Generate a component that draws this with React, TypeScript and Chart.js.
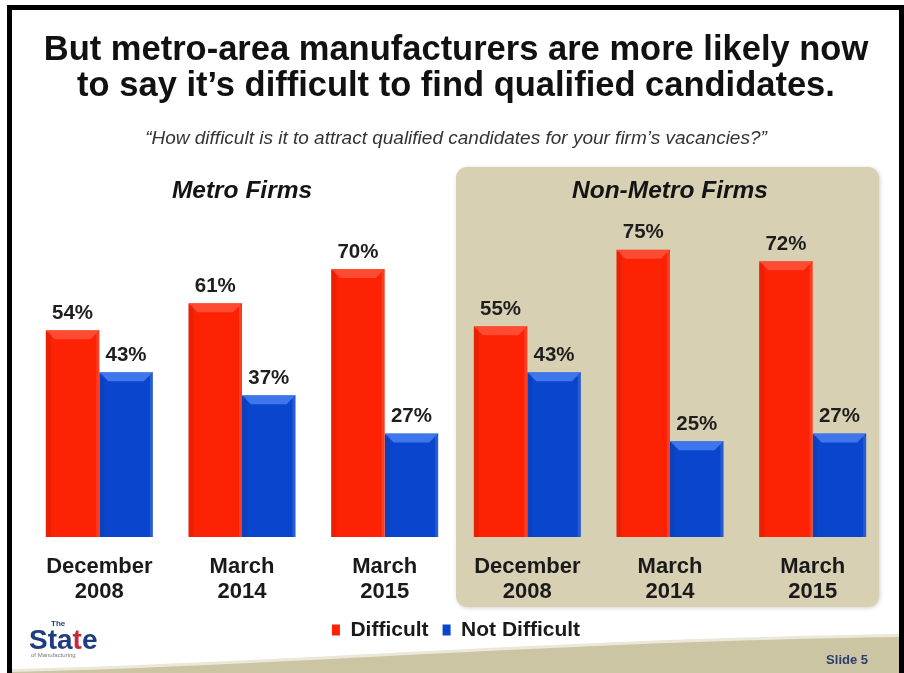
import React, { useEffect, useRef } from "react";
import { Chart, registerables } from "chart.js";

Chart.register(...registerables);

const categories = [
  ["December", "2008"],
  ["March", "2014"],
  ["March", "2015"],
  ["December", "2008"],
  ["March", "2014"],
  ["March", "2015"],
];
const difficult = [54, 61, 70, 55, 75, 72];
const notDifficult = [43, 37, 27, 43, 25, 27];
const seriesNames = ["Difficult", "Not Difficult"];
const groupTitles = ["Metro Firms", "Non-Metro Firms"];
const titleLines = [
  "But metro-area manufacturers are more likely now",
  "to say it’s difficult to find qualified candidates.",
];
const subtitleText =
  "“How difficult is it to attract qualified candidates for your firm’s vacancies?”";
const slideLabel = "Slide 5";

const FONT = '"Liberation Sans", Arial, Helvetica, sans-serif';
const RED = "#fd2204";
const BLUE = "#0a46cd";

const decorPlugin = {
  id: "decor",
  beforeDraw(chart: any) {
    const ctx = chart.ctx as CanvasRenderingContext2D;
    const W = chart.width;
    const H = chart.height;
    ctx.save();
    ctx.fillStyle = "#ffffff";
    ctx.fillRect(0, 0, W, H);

    // bottom wave
    ctx.beginPath();
    ctx.moveTo(12, 669);
    ctx.bezierCurveTo(300, 662, 550, 639, 899, 634);
    ctx.lineTo(899, H);
    ctx.lineTo(12, H);
    ctx.closePath();
    ctx.fillStyle = "#ebe8d9";
    ctx.fill();
    ctx.beginPath();
    ctx.moveTo(12, 672);
    ctx.bezierCurveTo(300, 665, 550, 642, 899, 637);
    ctx.lineTo(899, H);
    ctx.lineTo(12, H);
    ctx.closePath();
    ctx.fillStyle = "#cbc5a3";
    ctx.fill();

    // non-metro panel
    const xs = chart.scales.x;
    const left = xs.getPixelForValue(2.5);
    const right = xs.getPixelForValue(5.5) - 5;
    const top = 167;
    const bottom = 607;
    ctx.shadowColor = "rgba(0,0,0,0.18)";
    ctx.shadowBlur = 4;
    ctx.shadowOffsetX = 1;
    ctx.shadowOffsetY = 1;
    ctx.beginPath();
    (ctx as any).roundRect(left, top, right - left, bottom - top, 11);
    ctx.fillStyle = "#d7d0b3";
    ctx.fill();
    ctx.restore();

    // frame
    ctx.save();
    ctx.fillStyle = "#000";
    ctx.fillRect(7, 5, 897, 5);
    ctx.fillRect(7, 5, 5, H - 5);
    ctx.fillRect(899, 5, 5, H - 5);
    ctx.restore();
  },
  afterDatasetsDraw(chart: any) {
    const ctx = chart.ctx as CanvasRenderingContext2D;
    ctx.save();
    chart.data.datasets.forEach((ds: any, di: number) => {
      const meta = chart.getDatasetMeta(di);
      meta.data.forEach((el: any, i: number) => {
        const { x, y, base, width } = el.getProps(["x", "y", "base", "width"], true);
        const l = x - width / 2;
        const r = x + width / 2;
        const b = 9;
        // top bevel
        ctx.fillStyle = di === 0 ? "rgba(255,110,90,0.55)" : "rgba(100,150,255,0.6)";
        ctx.beginPath();
        ctx.moveTo(l, y);
        ctx.lineTo(r, y);
        ctx.lineTo(r - b, y + b);
        ctx.lineTo(l + b, y + b);
        ctx.closePath();
        ctx.fill();
        // side shading
        ctx.fillStyle = "rgba(0,0,0,0.07)";
        ctx.fillRect(l, y + 2, 5, base - y - 2);
        ctx.fillStyle = "rgba(255,255,255,0.12)";
        ctx.fillRect(r - 3, y + 2, 3, base - y - 2);
        // value label
        ctx.fillStyle = "#1e1e1e";
        ctx.font = `bold 20.5px ${FONT}`;
        ctx.textAlign = "center";
        ctx.textBaseline = "middle";
        ctx.fillText(`${ds.data[i]}%`, x, y - 17);
      });
    });
    ctx.restore();
  },
  afterDraw(chart: any) {
    const ctx = chart.ctx as CanvasRenderingContext2D;
    const xs = chart.scales.x;
    ctx.save();
    ctx.fillStyle = "#141414";
    ctx.font = `italic bold 24.5px ${FONT}`;
    ctx.textAlign = "center";
    ctx.textBaseline = "middle";
    ctx.fillText(groupTitles[0], xs.getPixelForValue(1), 191);
    ctx.fillText(groupTitles[1], xs.getPixelForValue(4), 191);

    // slide label
    ctx.font = `bold 13px ${FONT}`;
    ctx.fillStyle = "#2b3d72";
    ctx.textAlign = "right";
    ctx.fillText(slideLabel, 868, 660);

    // logo
    ctx.textAlign = "left";
    ctx.textBaseline = "alphabetic";
    ctx.font = `bold 28px ${FONT}`;
    let lx = 29;
    const parts: [string, string][] = [
      ["Sta", "#1f3d80"],
      ["t", "#c8283a"],
      ["e", "#1f3d80"],
    ];
    parts.forEach(([t, c]) => {
      ctx.fillStyle = c;
      ctx.fillText(t, lx, 649);
      lx += ctx.measureText(t).width;
    });
    ctx.font = `bold 8px ${FONT}`;
    ctx.fillStyle = "#1f3d80";
    ctx.fillText("The", 51, 626);
    ctx.font = `6px ${FONT}`;
    ctx.fillStyle = "#777";
    ctx.fillText("of Manufacturing", 31, 657);
    ctx.restore();
  },
};

export default function App() {
  const ref = useRef<HTMLCanvasElement | null>(null);
  useEffect(() => {
    if (!ref.current) return;
    const chart = new Chart(ref.current, {
      type: "bar",
      data: {
        labels: categories,
        datasets: [
          {
            label: seriesNames[0],
            data: difficult,
            backgroundColor: RED,
            borderWidth: 0,
            categoryPercentage: 0.75,
            barPercentage: 1,
          },
          {
            label: seriesNames[1],
            data: notDifficult,
            backgroundColor: BLUE,
            borderWidth: 0,
            categoryPercentage: 0.75,
            barPercentage: 1,
          },
        ],
      },
      options: {
        responsive: false,
        animation: false,
        devicePixelRatio: 1,
        events: [],
        layout: { padding: { top: 0, left: 28, right: 20, bottom: 22.5 } },
        scales: {
          x: {
            grid: { display: false, drawTicks: false },
            border: { display: false },
            ticks: {
              color: "#1a1a1a",
              padding: 17.5,
              font: { family: FONT, size: 22, weight: "bold", lineHeight: 25 / 22 },
            },
            afterFit: (s: any) => {
              s.height = 68.5;
            },
          },
          y: { display: false, min: 0, max: 100 },
        },
        plugins: {
          tooltip: { enabled: false },
          title: {
            display: true,
            text: titleLines,
            color: "#111",
            font: { family: FONT, size: 34.5, weight: "bold", lineHeight: 36 / 34.5 },
            padding: { top: 32, bottom: 8 },
          },
          subtitle: {
            display: true,
            text: subtitleText,
            color: "#333",
            font: { family: FONT, size: 19, style: "italic", lineHeight: 1.2 },
            padding: { top: 15.6, bottom: 3.6 },
          },
          legend: {
            position: "bottom",
            labels: {
              color: "#1a1a1a",
              boxWidth: 8,
              boxHeight: 11,
              padding: 14,
              font: { family: FONT, size: 21, weight: "bold" },
            },
          },
        },
      },
      plugins: [decorPlugin],
    } as any);
    return () => chart.destroy();
  }, []);
  return (
    <div style={{ position: "fixed", left: 0, top: 0, width: 904, height: 673, background: "#fff" }}>
      <canvas ref={ref} width={904} height={673} style={{ display: "block" }} />
    </div>
  );
}
